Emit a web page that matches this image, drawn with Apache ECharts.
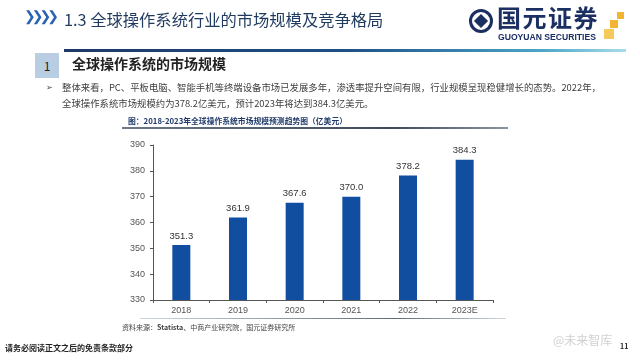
<!DOCTYPE html>
<html><head><meta charset="utf-8">
<script src="https://cdn.jsdelivr.net/npm/echarts@6/dist/echarts.min.js"></script>
<style>
html,body{margin:0;padding:0;background:#fff;}
body{width:640px;height:360px;position:relative;overflow:hidden;font-family:"Noto Sans CJK SC","Noto Sans",sans-serif;}
.a{position:absolute;white-space:nowrap;}
#chart{position:absolute;left:0;top:0;width:640px;height:360px;}
</style></head>
<body>
<div id="chart"></div>
<div class="a" style="left:24px;top:8px;font-size:14px;color:#2a64b0;font-weight:bold;letter-spacing:-4px;font-family:'DejaVu Sans'">❯❯❯❯</div>
<div class="a" style="left:64px;top:7px;font-size:16.3px;color:#1f3a5f;">1.3 全球操作系统行业的市场规模及竞争格局</div>
<div class="a" style="left:469px;top:9px;width:24px;height:24px;border-radius:50%;border:3px solid #1b2f63;box-sizing:border-box;"></div>
<div class="a" style="left:476px;top:16px;width:10px;height:10px;background:#1b2f63;transform:rotate(45deg);"></div>
<div class="a" style="left:497px;top:0px;font-size:24px;font-weight:bold;color:#1b2f63;letter-spacing:1.5px;line-height:34px;">国元证券</div>
<div class="a" style="left:498px;top:32px;font-size:8.6px;font-weight:bold;color:#1b2f63;font-family:'Liberation Sans'">GUOYUAN SECURITIES</div>
<div class="a" style="left:617px;top:12px;width:7px;height:7px;background:#f2b431;"></div>
<div class="a" style="left:610px;top:20px;width:8px;height:8px;background:#f2b431;"></div>
<div class="a" style="left:604px;top:29px;width:10px;height:10px;background:#f5c95c;"></div>
<div class="a" style="left:64px;top:49px;width:562px;height:3px;background:linear-gradient(90deg,#1c3966,#1f4f86 50%,#4aa6c8 85%,#a9dcea);"></div>
<div class="a" style="left:35px;top:53px;width:24px;height:25px;background:#b9cde3;text-align:center;font-size:12px;line-height:25px;color:#222;">1</div>
<div class="a" style="left:72px;top:53px;font-size:14px;font-weight:bold;color:#222;line-height:20px;">全球操作系统的市场规模</div>
<div class="a" style="left:46px;top:81px;font-size:7.5px;color:#444;">➢</div>
<div class="a" style="left:62px;top:79px;font-size:9.4px;color:#404040;line-height:16px;">整体来看，PC、平板电脑、智能手机等终端设备市场已发展多年，渗透率提升空间有限，行业规模呈现稳健增长的态势。2022年，<br>全球操作系统市场规模约为378.2亿美元，预计2023年将达到384.3亿美元。</div>
<div class="a" style="left:128px;top:115px;font-size:7.8px;font-weight:bold;color:#1f3a6a;">图：2018-2023年全球操作系统市场规模预测趋势图（亿美元）</div>
<div class="a" style="left:122px;top:127px;width:386px;height:2px;background:linear-gradient(90deg,#6c7a88,#3d4a58 70%,#8a96a2);"></div>
<div class="a" style="left:140px;top:318px;width:366px;height:1px;background:linear-gradient(90deg,#cfd6de,#5d6b7a 70%,#cfd6de);"></div>
<div class="a" style="left:122px;top:322px;font-size:7px;color:#444;">资料来源：<b>Statista</b>、中商产业研究院，国元证券研究所</div>
<div class="a" style="left:5px;top:342px;font-size:8px;font-weight:bold;color:#222;">请务必阅读正文之后的免责条款部分</div>
<div class="a" style="left:620px;top:341px;font-size:7px;font-weight:bold;color:#222;">11</div>
<div class="a" style="left:553px;top:331px;font-size:12px;color:rgba(170,170,170,0.55);">@未来智库</div>
<script>
var categories = ["2018","2019","2020","2021","2022","2023E"];
var values = [351.3, 361.9, 367.6, 370.0, 378.2, 384.3];
var yTicks = [330, 340, 350, 360, 370, 380, 390];

var chart = echarts.init(document.getElementById('chart'), null, {renderer:'canvas'});
chart.setOption({
  animation:false,
  grid:{left:153, right:147, top:145, bottom:60, containLabel:false},
  xAxis:{type:'category', data:categories,
    axisLine:{lineStyle:{color:'#555', width:1}},
    axisTick:{show:true, alignWithLabel:false, length:3, inside:false, lineStyle:{color:'#555'}},
    axisLabel:{color:'#555', fontSize:9, margin:6, fontFamily:'Liberation Sans'}},
  yAxis:{type:'value', min:yTicks[0], max:yTicks[yTicks.length-1], interval:10,
    axisLine:{show:true, lineStyle:{color:'#555', width:1}},
    axisTick:{show:true, length:3, lineStyle:{color:'#555'}},
    splitLine:{show:false},
    axisLabel:{color:'#555', fontSize:9, margin:8, fontFamily:'Liberation Sans'}},
  series:[{type:'bar', data:values, barWidth:18,
    itemStyle:{color:'#124ea0'},
    label:{show:true, position:'top', distance:4, color:'#333', fontSize:9.5, fontFamily:'Liberation Sans',
      formatter:function(p){return p.value.toFixed(1);}}}]
});
</script>
</body></html>
